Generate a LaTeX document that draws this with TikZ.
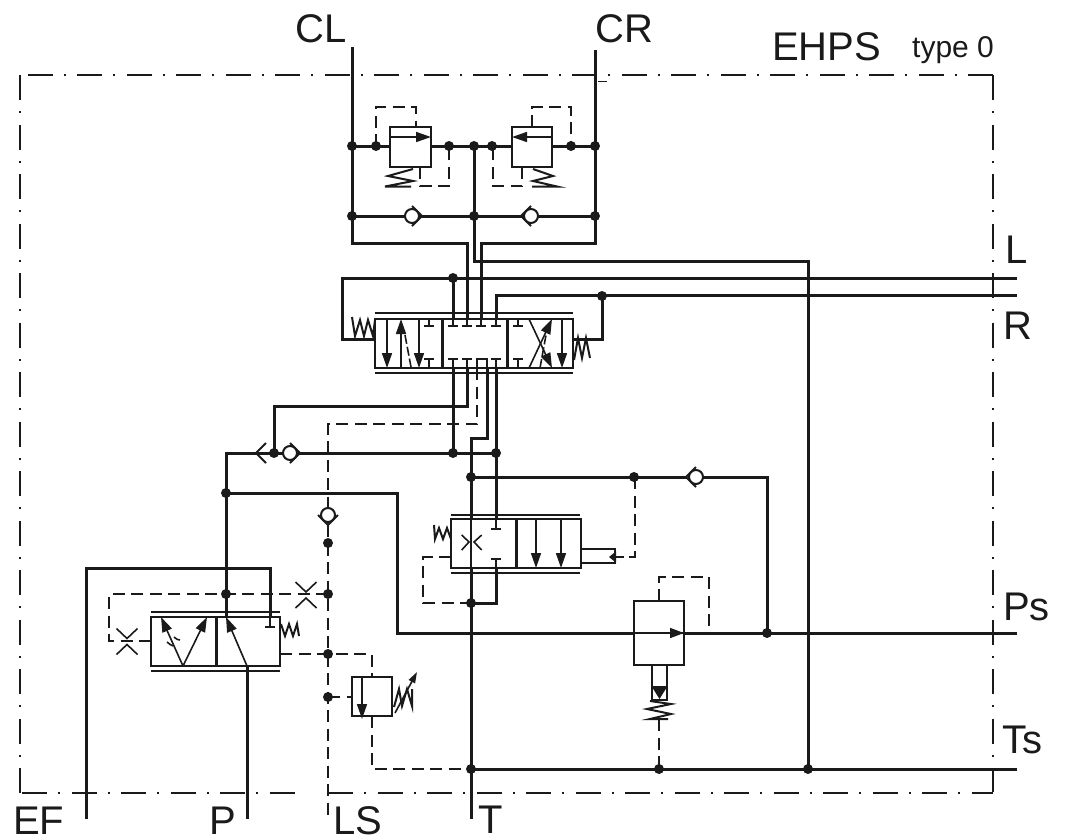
\documentclass[tikz,border=0pt]{standalone}
\usepackage{fontspec}
\setmainfont{Liberation Sans}
\usetikzlibrary{arrows.meta}
\definecolor{ink}{HTML}{1A1A1A}
\tikzset{
  mainl/.style={line width=3pt,draw=ink,line join=miter},
  boxl/.style={line width=2pt,draw=ink},
  divl/.style={line width=3pt,draw=ink},
  railn/.style={line width=2.2pt,draw=ink},
  thinl/.style={line width=1.6pt,draw=ink},
  springl/.style={line width=2pt,draw=ink},
  pilot/.style={line width=1.9pt,draw=ink,dash pattern=on 12pt off 6.5pt},
  frameb/.style={line width=1.6pt,draw=ink,dash pattern=on 25pt off 11.3pt on 1.8pt off 11.4pt},
  headt/.style={-{Triangle[length=15pt,width=10pt]}},
  lab/.style={anchor=base west,inner sep=0pt,text=ink,font=\fontsize{40}{40}\selectfont},
  checkv/.pic={
    \fill[white] (0,0) circle (7);
    \draw[line width=2pt,draw=ink] (0,0) circle (7);
    \draw[line width=2pt,draw=ink] (0,-10) -- (10,0) -- (0,10);
  },
  throttle/.pic={
    \draw[thinl] (-10.5,-13) -- (0,-3) -- (10.5,-13);
    \draw[thinl] (-10.5,13) -- (0,3) -- (10.5,13);
  }
}
\newcommand{\tickh}[2]{\draw[thinl] (#1-5,#2) -- (#1+5,#2);}
\begin{document}
\begin{tikzpicture}[x=1pt,y=-1pt]
\useasboundingbox (0,0) rectangle (1065,839);
% frame
\draw[frameb] (993,75) -- (20,75);
\draw[frameb] (993,75) -- (993,792);
\draw[frameb] (20,75) -- (20,793);
\draw[frameb] (22,793) -- (303,793);
\draw[frameb] (328,793) -- (993,793);
\draw[thinl] (598,81.5) -- (607,81.5);
% top circuits
\draw[mainl] (352,47) -- (352,243) -- (467,243) -- (467,319);
\draw[mainl] (595,50) -- (595,243) -- (481,243) -- (481,319);
\draw[mainl] (474,146) -- (474,261) -- (808,261) -- (808,769);
\draw[mainl] (352,146) -- (390,146);
\draw[mainl] (431,146) -- (512,146);
\draw[mainl] (552,146) -- (595,146);
\draw[mainl] (352,216) -- (595,216);
% relief valves
\draw[boxl] (390,127) rectangle (431,167);
\draw[thinl,headt] (390,137) -- (431,137);
\draw[pilot] (376,146) -- (376,107) -- (416,107) -- (416,127);
\draw[pilot] (420,167) -- (420,186) -- (449,186) -- (449,146);
\draw[springl] (413,169) -- (388,176) -- (413,181) -- (385,186.5) -- (411,186.5);
\draw[boxl] (512,127) rectangle (552,167);
\draw[thinl,headt] (552,137) -- (512,137);
\draw[pilot] (532,127) -- (532,107) -- (571,107) -- (571,146);
\draw[pilot] (522,167) -- (522,186) -- (493,186) -- (493,146);
\draw[springl] (533,169) -- (553,176) -- (533,181) -- (557,186.5) -- (532,186.5);
\pic at (412,216) {checkv};
\pic[rotate=180] at (531,216) {checkv};
% L and R
\draw[mainl] (375,339) -- (342,339) -- (342,278) -- (1017,278);
\draw[mainl] (496,319) -- (496,295) -- (1017,295);
\draw[mainl] (573,339) -- (602,339) -- (602,295);
\draw[mainl] (453,278) -- (453,319);
% main valve
\draw[boxl] (375,319) rectangle (573,368);
\draw[railn] (375,313) -- (573,313);
\draw[railn] (375,373) -- (573,373);
\draw[divl] (442,319) -- (442,368);
\draw[divl] (507,319) -- (507,368);
\draw[thinl,headt] (387,319) -- (387,368);
\draw[thinl,headt] (401,368) -- (401,319);
\draw[line width=1.6pt,draw=ink,dash pattern=on 9pt off 3pt] (405,335) -- (411,367);
\draw[thinl,headt] (419,319) -- (419,368);
\foreach \xx in {429,518} {
  \draw[thinl] (\xx,319) -- (\xx,326);
  \tickh{\xx}{326}
  \draw[thinl] (\xx,368) -- (\xx,359);
  \tickh{\xx}{359}
}
\foreach \xx in {453,467,481,496} {
  \draw[thinl] (\xx,319) -- (\xx,326);
  \tickh{\xx}{326}
}
\foreach \xx in {453,467,496} {
  \draw[thinl] (\xx,368) -- (\xx,359);
  \tickh{\xx}{359}
}
\draw[thinl] (477,368) -- (477,359) -- (487,359) -- (487,368);
\draw[thinl,headt] (529,368) -- (552,319);
\draw[thinl,headt] (529,319) -- (552,368);
\draw[line width=1.6pt,draw=ink,dash pattern=on 9pt off 3pt] (540,368) -- (546,335);
\draw[thinl,headt] (562,319) -- (562,368);
% springs of main valve
\draw[springl] (352,317) -- (355,336) -- (360,320) -- (364,336) -- (368,320) -- (373,336) -- (375,320);
\draw[springl] (574,360) -- (578,338) -- (582,358) -- (586,338) -- (590,358);
% lines below main valve
\draw[mainl] (453,368) -- (453,453);
\draw[mainl] (467,368) -- (467,406) -- (274,406) -- (274,453);
\draw[pilot] (477,368) -- (477,424) -- (328,424) -- (328,507);
\draw[mainl] (487,368) -- (487,438) -- (471,438) -- (471,519);
\draw[thinl] (471,519) -- (471,568);
\draw[mainl] (471,568) -- (471,819);
\draw[mainl] (496,368) -- (496,519);
\draw[thinl] (496,519) -- (496,529);
\tickh{496}{529}
\draw[thinl] (496,568) -- (496,559);
\tickh{496}{559}
\draw[mainl] (496,568) -- (496,603) -- (471,603);
\draw[mainl] (496,453) -- (226,453) -- (226,617);
\draw[line width=2pt,draw=ink] (266,443) -- (256,453) -- (266,463);
\pic at (290,453) {checkv};
\draw[mainl] (226,493) -- (397,493) -- (397,633) -- (634,633);
\draw[mainl] (684,633) -- (1017,633);
\draw[thinl] (634,633) -- (684,633);
\draw[thinl,-{Triangle[length=14pt,width=10pt]}] (660,633) -- (684,633);
\pic[rotate=-90] at (328,515) {checkv};
\draw[pilot] (328,525) -- (328,819);
% left valve
\draw[mainl] (86,819) -- (86,568) -- (270,568) -- (270,617);
\draw[thinl] (270,617) -- (270,627);
\tickh{270}{627}
\draw[boxl] (151,617) rectangle (280,666);
\draw[railn] (151,612) -- (280,612);
\draw[railn] (151,671) -- (280,671);
\draw[divl] (216,617) -- (216,666);
\draw[thinl,headt] (183,666) -- (161,617);
\draw[thinl,headt] (183,666) -- (207,617);
\draw[thinl] (167,642) .. controls (169,644) and (171,645) .. (173,646);
\draw[thinl] (174,637) .. controls (176,639) and (178,640) .. (180,640);
\draw[thinl,headt] (247,666) -- (226,617);
\draw[mainl] (247,666) -- (247,819);
\draw[springl] (281,624) -- (285,636) -- (289,624) -- (293,636) -- (297,624) -- (299,636);
\draw[pilot] (328,594) -- (109,594) -- (109,641) -- (151,641);
\pic at (306,595) {throttle};
\pic at (127,641.5) {throttle};
\draw[pilot] (280,654) -- (372,654) -- (372,677);
% small relief valve
\draw[boxl] (352,677) rectangle (392,716);
\draw[thinl,headt] (362,677) -- (362,719);
\draw[pilot] (328,697) -- (352,697);
\draw[pilot] (372,716) -- (372,769) -- (471,769);
\draw[springl] (394,707) -- (399,689) -- (402,706) -- (407,689) -- (412,706) -- (412,689);
\draw[thinl,-{Triangle[length=11pt,width=7pt]}] (395,713) -- (417,672);
% three position valve (pressure line)
\draw[mainl] (471,477) -- (687,477);
\draw[mainl] (703,477) -- (767,477) -- (767,633);
\pic[rotate=180] at (696,477) {checkv};
\draw[boxl] (451,519) rectangle (581,568);
\draw[railn] (451,515) -- (580,515);
\draw[railn] (451,573) -- (580,573);
\draw[divl] (516,519) -- (516,568);
\draw[thinl] (461.7,535) -- (469,542) -- (461.7,550);
\draw[thinl] (481.7,535) -- (474,542) -- (481.7,550);
\draw[thinl,headt] (536,519) -- (536,568);
\draw[thinl,headt] (561,519) -- (561,568);
\draw[springl] (434,525) -- (435,539) -- (439,528) -- (443,539) -- (447,528) -- (451,539);
\draw[pilot] (451,557) -- (423,557) -- (423,603) -- (471,603);
\draw[line width=2.4pt,draw=ink] (581,549) -- (615,549) -- (615,563) -- (581,563);
\draw[pilot] (635,477) -- (635,557) -- (620,557);
\draw[line width=2pt,draw=ink,-{Triangle[length=7pt,width=11pt]}] (624,557) -- (609,557);
% pressure relief right
\draw[boxl] (634,601) rectangle (684,665);
\draw[pilot] (659,601) -- (659,577) -- (709,577) -- (709,633);
\draw[boxl] (652,665) -- (652,700) -- (667,700) -- (667,665);
\fill[ink] (652,687) -- (667,687) -- (659.5,699) -- cycle;
\draw[thinl] (652,687) -- (667,687);
\draw[springl] (650,701) -- (671,704) -- (647,709) -- (671,714) -- (650,719) -- (668,719);
\draw[pilot] (659,719) -- (659,769);
% tank line
\draw[mainl] (471,769) -- (1017,769);
% dots
\foreach \px/\py in {352/146,376/146,449/146,474/146,492/146,571/146,595/146,
  352/216,474/216,595/216,453/278,602/296,453/453,496/453,274/453,226/493,
  471/477,634/477,328/543,226/594,328/594,328/654,328/697,471/603,
  767/633,471/769,659/769,808/769}
  \fill[ink] (\px,\py) circle (5);
% labels
\node[lab] (cl) at (295,42) {CL};
\node[lab] (cr) at (595,42) {CR};
\node[lab] (ehps) at (772,60) {EHPS};
\node[lab,font=\fontsize{30}{30}\selectfont] (type) at (912,57) {type 0};
\node[lab] (l) at (1005,263) {L};
\node[lab] (r) at (1003,339) {R};
\node[lab] (ps) at (1003,620) {Ps};
\node[lab] (ts) at (1002,753) {Ts};
\node[lab] (ef) at (13,834) {EF};
\node[lab] (p) at (209,834) {P};
\node[lab] (ls) at (333,834) {LS};
\node[lab] (t) at (478,833) {T};
\end{tikzpicture}
\end{document}
